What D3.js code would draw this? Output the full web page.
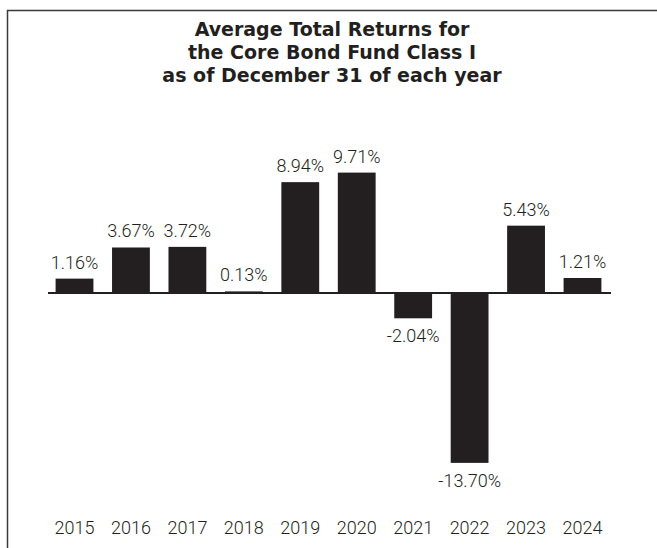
<!DOCTYPE html>
<html>
<head>
<meta charset="utf-8">
<script src="https://cdn.jsdelivr.net/npm/d3@7"></script>
<style>
    body { margin: 0; background: #fff; }
    .title { font-family: "DejaVu Sans", sans-serif; font-weight: 700; font-size: 19px; fill: #231f20; }
    .val-label, .year-label { font-family: Roboto, sans-serif; font-weight: 300; font-size: 18px; fill: #231f20; }
</style>
</head>
<body>
<div id="chart"></div>
<script>
// chart data
var years = ["2015", "2016", "2017", "2018", "2019", "2020", "2021", "2022", "2023", "2024"];
var returns = [1.16, 3.67, 3.72, 0.13, 8.94, 9.71, -2.04, -13.70, 5.43, 1.21];
var titleLines = ["Average Total Returns for", "the Core Bond Fund Class I", "as of December 31 of each year"];

var width = 657, height = 548;

var svg = d3.select("#chart")
    .append("svg")
    .attr("width", width)
    .attr("height", height);

// frame (open on right and bottom, cropped by the page)
svg.append("rect")
    .attr("x", 7.5)
    .attr("y", 10.5)
    .attr("width", 700)
    .attr("height", 600)
    .attr("fill", "none")
    .attr("stroke", "#3a3a3a")
    .attr("stroke-width", 1.5);

svg.selectAll(".title")
    .data(titleLines)
    .enter()
    .append("text")
    .attr("class", "title")
    .attr("text-anchor", "middle")
    .attr("x", 332)
    .attr("y", function(d, i) { return 36 + i * 23; })
    .text(function(d) { return d; });

var xScale = d3.scaleBand()
    .domain(years)
    .range([46, 611])
    .paddingInner(0.33)
    .paddingOuter(0.17);

var yScale = d3.scaleLinear()
    .domain([-15, 12])
    .range([293 + 15 * 12.4, 293 - 12 * 12.4]);

var data = years.map(function(y, i) { return { year: y, value: returns[i] }; });

var pct = d3.formatLocale({ decimal: ".", thousands: ",", grouping: [3], currency: ["$", ""], minus: "-" })
    .format(".2f");

svg.selectAll(".bar")
    .data(data)
    .enter()
    .append("rect")
    .attr("class", "bar")
    .attr("x", function(d) { return xScale(d.year); })
    .attr("width", xScale.bandwidth())
    .attr("y", function(d) { return yScale(Math.max(0, d.value)); })
    .attr("height", function(d) { return Math.abs(yScale(d.value) - yScale(0)); })
    .attr("fill", "#231f20");

// zero line
svg.append("line")
    .attr("x1", xScale.range()[0] + 2)
    .attr("x2", xScale.range()[1])
    .attr("y1", yScale(0))
    .attr("y2", yScale(0))
    .attr("stroke", "#231f20")
    .attr("stroke-width", 2);

svg.selectAll(".val-label")
    .data(data)
    .enter()
    .append("text")
    .attr("class", "val-label")
    .attr("text-anchor", "middle")
    .attr("x", function(d) { return xScale(d.year) + xScale.bandwidth() / 2; })
    .attr("y", function(d) { return d.value >= 0 ? yScale(d.value) - 10 : yScale(d.value) + 24; })
    .text(function(d) { return pct(d.value) + "%"; });

var xAxis = d3.axisBottom(xScale).tickSize(0).tickPadding(0);

var axisG = svg.append("g")
    .attr("transform", "translate(0,520)")
    .call(xAxis);

axisG.select(".domain").remove();
axisG.selectAll("text")
    .attr("class", "year-label")
    .attr("fill", null)
    .attr("dy", null)
    .attr("y", 14);
axisG.attr("font-size", null).attr("font-family", null);
</script>
</body>
</html>
